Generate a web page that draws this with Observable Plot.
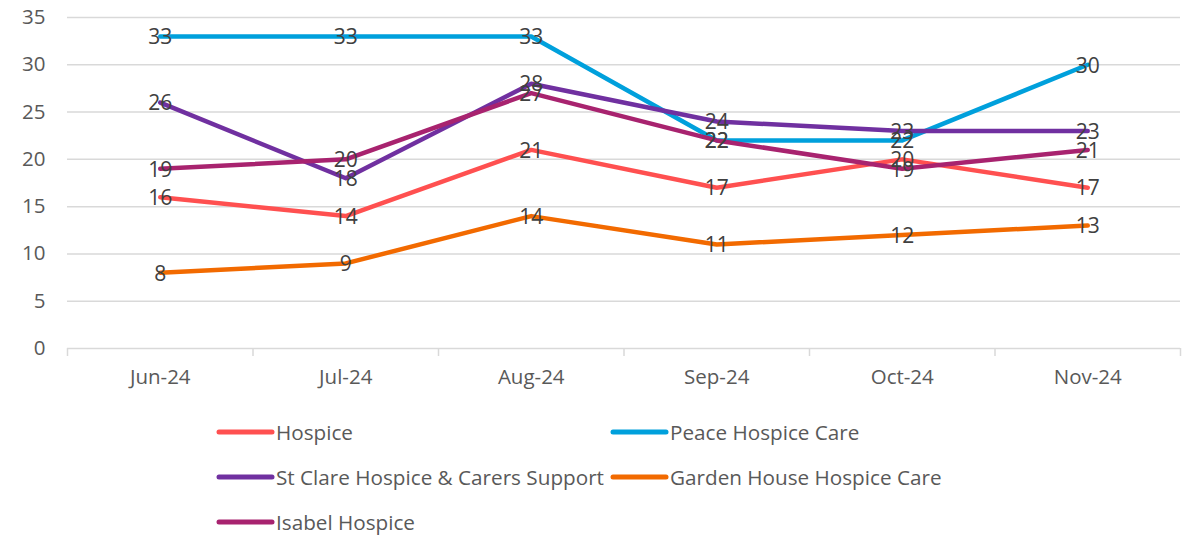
<!DOCTYPE html>
<html>
<head>
<meta charset="utf-8">
<script src="https://cdn.jsdelivr.net/npm/d3@7"></script>
<script src="https://cdn.jsdelivr.net/npm/@observablehq/plot@0.6"></script>
<style>
  body { margin: 0; background: #fff; font-family: "Open Sans", sans-serif; }
  #legend { display: grid; grid-template-columns: 394px 394px; padding-left: 215px; row-gap: 0; margin-top: 7px; }
  .item { display: flex; align-items: center; height: 45px; font-size: 20.7px; color: #595959; white-space: nowrap; }
  .item svg { margin-right: 1px; }
</style>
</head>
<body>
<div id="chart"></div>
<div id="legend"></div>
<script>
const months = ["Jun-24", "Jul-24", "Aug-24", "Sep-24", "Oct-24", "Nov-24"];
const seriesNames = ["Hospice", "Peace Hospice Care", "St Clare Hospice & Carers Support", "Garden House Hospice Care", "Isabel Hospice"];
const seriesColors = ["#FF5050", "#00A0DC", "#7030A0", "#F26A00", "#A8236F"];
const hospice = [16, 14, 21, 17, 20, 17];
const peace = [33, 33, 33, 22, 22, 30];
const stClare = [26, 18, 28, 24, 23, 23];
const gardenHouse = [8, 9, 14, 11, 12, 13];
const isabel = [19, 20, 27, 22, 19, 21];
const yTicks = [0, 5, 10, 15, 20, 25, 30, 35];

const seriesValues = [hospice, peace, stClare, gardenHouse, isabel];
const data = seriesNames.flatMap((name, s) =>
  seriesValues[s].map((v, i) => ({ series: name, i, month: months[i], value: v }))
);
const idx = months.map((_, i) => i);
const bounds = d3.range(months.length + 1).map(i => i - 0.5);

const chart = Plot.plot({
  width: 1185,
  height: 402,
  marginLeft: 67,
  marginRight: 5,
  marginTop: 17,
  marginBottom: 54,
  style: { fontFamily: "'Open Sans', sans-serif", fontSize: "20.5px", background: "#fff" },
  x: { type: "linear", domain: [-0.5, months.length - 0.5], axis: null },
  y: { domain: [0, 35], axis: null },
  color: { domain: seriesNames, range: seriesColors },
  marks: [
    Plot.gridY(yTicks, { stroke: "#d9d9d9", strokeOpacity: 1, strokeWidth: 1.5 }),
    Plot.axisY({ ticks: yTicks, tickSize: 0, tickPadding: 22, fill: "#595959", fontSize: 20.5, label: null }),
    Plot.axisX({ ticks: bounds, tickSize: 8, tickFormat: () => "", stroke: "#d9d9d9", strokeWidth: 1.5, label: null }),
    Plot.axisX({ ticks: idx, tickSize: 0, tickPadding: 21, tickFormat: i => months[i], fill: "#595959", fontSize: 20.5, label: null }),
    Plot.line(data, { x: "i", y: "value", z: "series", stroke: "series", strokeWidth: 4.5, strokeLinecap: "round", strokeLinejoin: "round" }),
    Plot.text(data, { x: "i", y: "value", text: "value", fill: "#404040", fontSize: 21, dy: 1 })
  ]
});
document.getElementById("chart").appendChild(chart);

const legend = document.getElementById("legend");
seriesNames.forEach((name, s) => {
  const div = document.createElement("div");
  div.className = "item";
  div.innerHTML = `<svg width="60" height="10"><line x1="4" y1="5" x2="57" y2="5" stroke="${seriesColors[s]}" stroke-width="5" stroke-linecap="round"/></svg><span></span>`;
  div.querySelector("span").textContent = name;
  legend.appendChild(div);
});
</script>
</body>
</html>
